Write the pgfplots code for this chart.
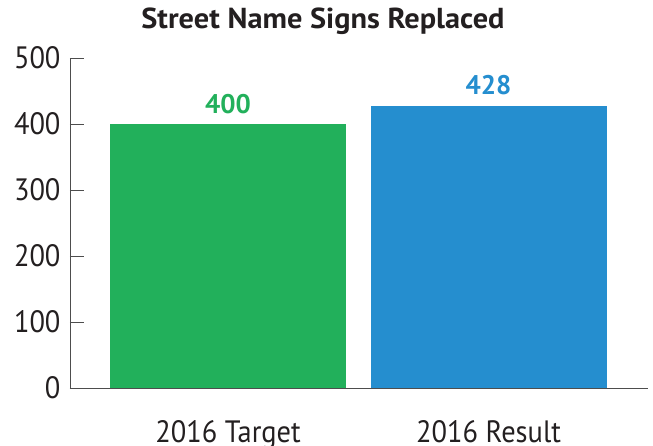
\documentclass[border=0pt]{standalone}
\usepackage{fontspec}
\setmainfont[FakeStretch=0.92]{PT Sans}
\newfontfamily\titlefont[FakeStretch=1.05]{PT Sans}
\newfontfamily\valfont[FakeStretch=1.0]{PT Sans}
\usepackage{pgfplots}
\pgfplotsset{compat=1.18}
\definecolor{cgreen}{HTML}{22B05B}
\definecolor{cblue}{HTML}{258ECF}
\definecolor{axgray}{HTML}{4D4D4D}
\definecolor{txt}{HTML}{231F20}
\begin{document}
\begin{tikzpicture}
\begin{axis}[
  scale only axis, width=578bp, height=330bp,
  xmin=-0.6065, xmax=1.612, ymin=0, ymax=500,
  axis lines=left,
  axis line style={axgray, line width=0.8pt, -},
  ytick={0,100,...,500},
  xtick={0,1}, xticklabels={2016 Target, 2016 Result},
  xtick style={draw=none},
  ytick style={draw=axgray, line width=0.8pt},
  ytick align=inside,
  major tick length=14bp,
  ticklabel style={font=\fontsize{31}{31}\selectfont, text=txt},
  /pgf/number format/assume math mode=true,
  yticklabel style={xshift=-6bp},
  xticklabel style={anchor=base, yshift=-47bp},
  title={Street Name Signs Replaced},
  title style={font=\titlefont\bfseries\fontsize{29}{29}\selectfont, text=txt, anchor=base, at={(0.4377,1)}, yshift=24bp},
]
\addplot[ybar, bar width=0.906, fill=cgreen, draw=none, bar shift=0pt, nodes near coords, every node near coord/.append style={text=cgreen, font=\valfont\bfseries\fontsize{27}{27}\selectfont, anchor=base, yshift=11bp}] coordinates {(0,400)};
\addplot[ybar, bar width=0.906, fill=cblue, draw=none, bar shift=0pt, nodes near coords, every node near coord/.append style={text=cblue, font=\valfont\bfseries\fontsize{27}{27}\selectfont, anchor=base, yshift=11bp}] coordinates {(1,428)};
\end{axis}
\pgfresetboundingbox
\path[use as bounding box] (-70bp,-58bp) rectangle (583bp,388bp);
\end{tikzpicture}
\end{document}
